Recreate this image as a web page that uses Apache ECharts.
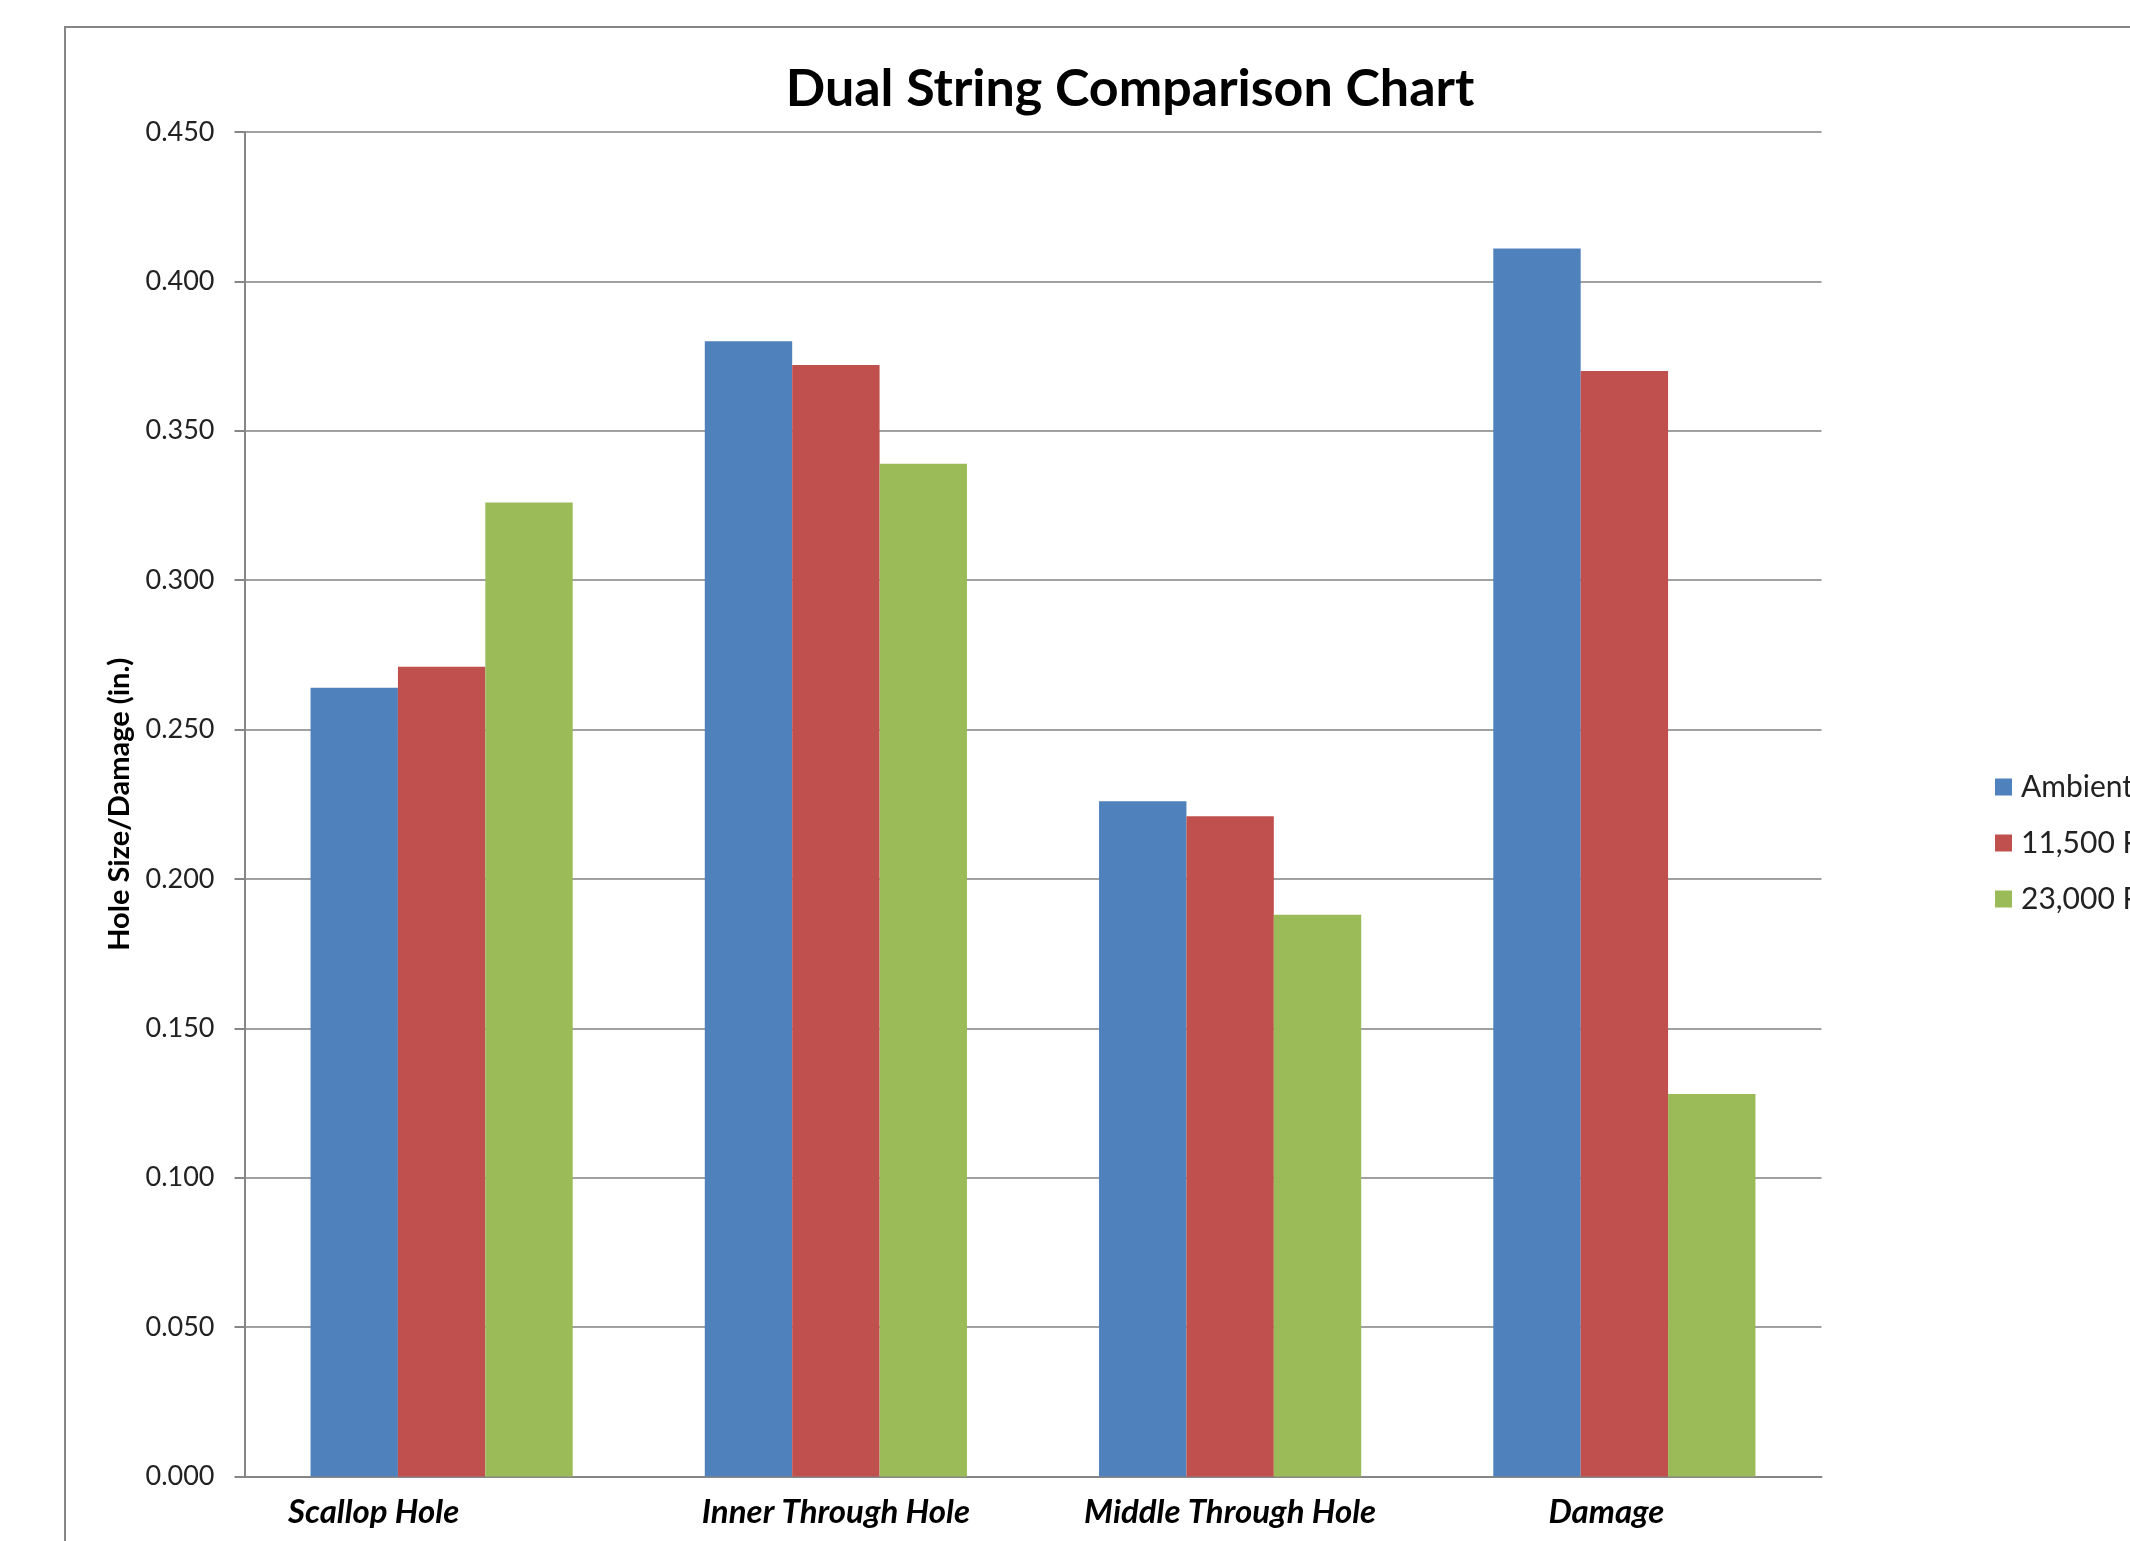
<!DOCTYPE html>
<html>
<head>
<meta charset="utf-8">
<script src="https://cdn.jsdelivr.net/npm/echarts@6/dist/echarts.min.js"></script>
<style>
  html, body { margin: 0; padding: 0; background: #fff; }
  #chart { width: 2130px; height: 1541px; }
</style>
</head>
<body>
<div id="chart"></div>
<script>
var categories = ['Scallop Hole', 'Inner Through Hole', 'Middle Through Hole', 'Damage'];
var seriesNames = ['Ambient', '11,500 PSI', '23,000 PSI'];
var ambient = [0.264, 0.380, 0.226, 0.411];
var psi11500 = [0.271, 0.372, 0.221, 0.370];
var psi23000 = [0.326, 0.339, 0.188, 0.128];
var colors = ['#4F81BD', '#C0504D', '#9BBB59'];

var fontFamily = 'Lato, "Open Sans", sans-serif';

var chart = echarts.init(document.getElementById('chart'));

function bar(name, data, color) {
  return {
    name: name,
    type: 'bar',
    data: data,
    barGap: '0%',
    barCategoryGap: '33.5%',
    itemStyle: { color: color },
    emphasis: { disabled: true }
  };
}

var option = {
  animation: false,
  backgroundColor: '#fff',
  color: colors,
  title: {
    text: 'Dual String Comparison Chart',
    left: 1125,
    top: 58,
    textAlign: 'center',
    textStyle: { fontFamily: fontFamily, fontSize: 52, fontWeight: 'bold', color: '#000' }
  },
  graphic: [{
    type: 'rect',
    shape: { x: 65, y: 27, width: 2200, height: 2000 },
    style: { fill: 'none', stroke: '#868686', lineWidth: 2 },
    silent: true
  }],
  legend: {
    orient: 'vertical',
    left: 1990,
    top: 767,
    itemWidth: 17,
    itemHeight: 17,
    itemGap: 26,
    icon: 'rect',
    textStyle: { fontFamily: fontFamily, fontSize: 30, lineHeight: 30, color: '#222', padding: [0, 0, 0, 4] },
    data: seriesNames
  },
  grid: { left: 244.5, right: 308.5, top: 132, bottom: 64.5 },
  xAxis: {
    type: 'category',
    data: [
      { value: categories[0], textStyle: { padding: [0, 136, 0, 0] } },
      categories[1],
      categories[2],
      { value: categories[3], textStyle: { padding: [0, 36, 0, 0] } }
    ],
    axisLine: { lineStyle: { color: '#868686', width: 2 } },
    axisTick: { show: false },
    axisLabel: {
      margin: 19,
      fontFamily: fontFamily, fontSize: 33, fontWeight: 'bold', fontStyle: 'italic', color: '#000'
    }
  },
  yAxis: {
    type: 'value',
    min: 0,
    max: 0.45,
    interval: 0.05,
    name: 'Hole Size/Damage (in.)',
    nameLocation: 'middle',
    nameGap: 110,
    nameTextStyle: { fontFamily: fontFamily, fontSize: 29, fontWeight: 'bold', color: '#000' },
    axisLine: { show: true, lineStyle: { color: '#868686', width: 2 } },
    axisTick: { show: true, length: 10, lineStyle: { color: '#868686', width: 2 } },
    splitLine: { lineStyle: { color: '#a0a0a0', width: 2 } },
    axisLabel: {
      margin: 30,
      fontFamily: fontFamily, fontSize: 27, color: '#222',
      formatter: function (v) { return v.toFixed(3); }
    }
  },
  series: [
    bar(seriesNames[0], ambient, colors[0]),
    bar(seriesNames[1], psi11500, colors[1]),
    bar(seriesNames[2], psi23000, colors[2])
  ]
};

chart.setOption(option);
</script>
</body>
</html>
